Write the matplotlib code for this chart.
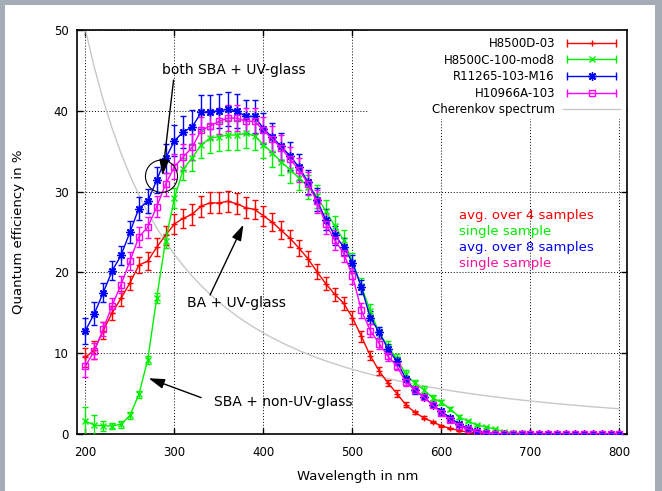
import matplotlib
matplotlib.use('Agg')
import matplotlib.pyplot as plt
from matplotlib.lines import Line2D
from matplotlib.legend_handler import HandlerLine2D
from matplotlib.patches import Ellipse, Rectangle

# wavelength grid in nm (200 ... 800, 10 nm steps)
wavelength = list(range(200, 801, 10))

# quantum efficiency in %
qe_h8500d = [9.5, 10.4, 12.8, 15.0, 16.8, 18.7, 20.9, 21.4, 23.1, 24.6,
             26.0, 26.7, 27.2, 28.2, 28.6, 28.6, 28.8, 28.5, 28.0, 27.8,
             27.0, 26.2, 25.2, 24.2, 23.0, 21.7, 20.1, 18.6, 17.3, 16.2,
             14.4, 12.1, 9.7, 7.8, 6.3, 5.0, 3.6, 2.7, 2.0, 1.5,
             1.0, 0.7, 0.4, 0.25, 0.15, 0.08, 0.04, 0.02, 0.0, 0.0,
             0.0, 0.0, 0.0, 0.0, 0.0, 0.0, 0.0, 0.0, 0.0, 0.0, 0.0]
err_h8500d = [1.2, 1.1, 1.0, 0.9, 0.9, 0.9, 1.0, 1.1, 1.1, 1.2,
              1.2, 1.2, 1.3, 1.3, 1.3, 1.3, 1.3, 1.3, 1.3, 1.2,
              1.2, 1.1, 1.1, 1.0, 1.0, 0.9, 0.9, 0.8, 0.8, 0.8,
              0.8, 0.7, 0.6, 0.5, 0.4, 0.4, 0.3, 0.2, 0.2, 0.1,
              0.1, 0.05, 0.05, 0.05, 0.05, 0.05, 0.05, 0.05, 0.05, 0.05,
              0.05, 0.05, 0.05, 0.05, 0.05, 0.05, 0.05, 0.05, 0.05, 0.05, 0.05]

qe_h8500c = [1.6, 1.1, 1.0, 1.0, 1.2, 2.3, 4.9, 9.2, 16.8, 23.9,
             29.2, 32.8, 34.2, 35.8, 36.6, 36.8, 37.0, 37.0, 37.2, 36.9,
             35.8, 34.8, 33.7, 32.7, 31.7, 30.6, 29.4, 27.6, 25.8, 24.0,
             21.3, 18.3, 15.2, 12.5, 10.8, 9.3, 7.4, 6.3, 5.5, 4.5,
             3.9, 3.1, 2.1, 1.6, 1.1, 0.9, 0.6, 0.3, 0.15, 0.08,
             0.04, 0.0, 0.0, 0.0, 0.0, 0.0, 0.0, 0.0, 0.0, 0.0, 0.0]
err_h8500c = [1.8, 1.2, 0.6, 0.4, 0.4, 0.4, 0.4, 0.5, 0.6, 0.9,
              1.2, 1.4, 1.6, 1.7, 1.8, 1.8, 1.8, 1.8, 1.8, 1.8,
              1.7, 1.7, 1.6, 1.6, 1.5, 1.5, 1.4, 1.3, 1.2, 1.2,
              1.1, 1.0, 0.9, 0.8, 0.7, 0.6, 0.5, 0.4, 0.4, 0.3,
              0.3, 0.2, 0.2, 0.15, 0.1, 0.1, 0.1, 0.05, 0.05, 0.05,
              0.05, 0.05, 0.05, 0.05, 0.05, 0.05, 0.05, 0.05, 0.05, 0.05, 0.05]

qe_r11265 = [12.8, 14.9, 17.5, 20.2, 22.1, 25.0, 27.9, 28.8, 31.4, 34.1,
             36.3, 37.4, 38.0, 39.8, 39.9, 40.0, 40.2, 40.0, 39.3, 39.3,
             37.8, 36.7, 35.6, 34.4, 33.0, 31.2, 29.0, 26.5, 24.6, 23.2,
             21.2, 18.2, 14.4, 12.6, 10.5, 9.0, 6.8, 5.4, 4.6, 3.6,
             2.8, 2.0, 1.2, 0.7, 0.35, 0.15, 0.05, 0.0, 0.0, 0.0,
             0.0, 0.0, 0.0, 0.0, 0.0, 0.0, 0.0, 0.0, 0.0, 0.0, 0.0]
err_r11265 = [1.6, 1.4, 1.2, 1.2, 1.2, 1.3, 1.4, 1.5, 1.6, 1.8,
              1.9, 2.0, 2.1, 2.1, 2.1, 2.1, 2.1, 2.1, 2.0, 2.0,
              1.9, 1.8, 1.7, 1.7, 1.6, 1.5, 1.4, 1.3, 1.2, 1.1,
              1.0, 0.9, 0.8, 0.7, 0.6, 0.5, 0.4, 0.4, 0.3, 0.3,
              0.2, 0.2, 0.1, 0.1, 0.1, 0.05, 0.05, 0.05, 0.05, 0.05,
              0.05, 0.05, 0.05, 0.05, 0.05, 0.05, 0.05, 0.05, 0.05, 0.05, 0.05]

qe_h10966 = [8.4, 10.3, 13.0, 15.9, 18.5, 21.4, 24.4, 25.6, 28.1, 30.9,
             33.1, 34.3, 35.5, 37.6, 38.1, 38.7, 39.1, 39.1, 38.7, 38.7,
             37.6, 36.5, 35.4, 34.0, 32.7, 31.0, 28.8, 26.0, 24.0, 22.4,
             19.6, 15.3, 12.8, 11.2, 9.6, 8.4, 6.4, 5.5, 4.6, 3.6,
             2.6, 1.7, 1.0, 0.6, 0.3, 0.1, 0.05, 0.0, 0.0, 0.0,
             0.0, 0.0, 0.0, 0.0, 0.0, 0.0, 0.0, 0.0, 0.0, 0.0, 0.0]
err_h10966 = [1.3, 1.0, 0.9, 0.9, 1.0, 1.1, 1.2, 1.3, 1.3, 1.4,
              1.5, 1.6, 1.6, 1.6, 1.6, 1.6, 1.6, 1.6, 1.6, 1.6,
              1.6, 1.6, 1.6, 1.5, 1.5, 1.4, 1.4, 1.3, 1.2, 1.1,
              1.0, 0.9, 0.8, 0.7, 0.6, 0.5, 0.4, 0.4, 0.3, 0.3,
              0.2, 0.2, 0.1, 0.1, 0.1, 0.05, 0.05, 0.05, 0.05, 0.05,
              0.05, 0.05, 0.05, 0.05, 0.05, 0.05, 0.05, 0.05, 0.05, 0.05, 0.05]

# Cherenkov spectrum (arbitrary units, scaled onto the axis)
cherenkov = [50.0, 45.35, 41.32, 37.81, 34.72, 32.0, 29.59, 27.43, 25.51, 23.78,
             22.22, 20.81, 19.53, 18.37, 17.30, 16.33, 15.43, 14.61, 13.85, 13.15,
             12.5, 11.90, 11.34, 10.82, 10.33, 9.88, 9.45, 9.05, 8.68, 8.33,
             8.0, 7.69, 7.40, 7.12, 6.86, 6.61, 6.38, 6.16, 5.95, 5.75,
             5.56, 5.37, 5.20, 5.04, 4.88, 4.73, 4.59, 4.46, 4.33, 4.20,
             4.08, 3.97, 3.86, 3.75, 3.65, 3.56, 3.46, 3.37, 3.29, 3.20, 3.13]

labels = ['H8500D-03', 'H8500C-100-mod8', 'R11265-103-M16', 'H10966A-103']
notes = ['avg. over 4 samples', 'single sample', 'avg. over 8 samples', 'single sample']

series = [
    (qe_h8500d, err_h8500d, '#ff0000', '+', 5, 'full'),
    (qe_h8500c, err_h8500c, '#00f000', 'x', 4, 'full'),
    (qe_r11265, err_r11265, '#0000ff', (8, 2, 0), 6, 'full'),
    (qe_h10966, err_h10966, '#ff00ff', 's', 5, 'none'),
]
note_colors = ['#ff0000', '#00f000', '#0000ff', '#ff10a0']

plt.rcParams['font.family'] = 'DejaVu Sans'

fig = plt.figure(figsize=(6.62, 4.91), dpi=100)
fig.patch.set_facecolor('#a4adb6')
fig.patches.append(Rectangle((5 / 662, 0), 650 / 662, 486 / 491, transform=fig.transFigure,
                             facecolor='white', edgecolor='none', zorder=-1))
ax = fig.add_axes([77 / 662, 57 / 491, 550 / 662, 404 / 491])

ax.set_xlim(190.5, 808.5)
ax.set_ylim(0, 50)
ax.set_axisbelow(True)
ax.grid(True, color='black', linestyle=(0, (1, 2)), linewidth=0.7)

# opaque key area (covers the grid, like the original)
ax.add_patch(Rectangle((518, 39.0), 300, 12, facecolor='white', edgecolor='none', zorder=1))

handles = []
handler_map = {}
for (vals, errs, col, mk, ms, fill), lab in zip(series, labels):
    ax.errorbar(wavelength, vals, yerr=errs, color=col, marker=mk, markersize=ms,
                fillstyle=fill, markeredgewidth=1, linewidth=1, elinewidth=1,
                capsize=2.5, capthick=1, zorder=3)
    caps = Line2D([], [], color=col, marker='|', markersize=6, linewidth=1)
    mark = Line2D([], [], color=col, marker=mk, markersize=ms, fillstyle=fill,
                  linestyle='none', markeredgewidth=1)
    handler_map[caps] = HandlerLine2D(numpoints=2)
    handler_map[mark] = HandlerLine2D(numpoints=1)
    handles.append((caps, mark))

ch_line, = ax.plot(wavelength, cherenkov, color='#c8c8c8', linewidth=1, zorder=2.5)
handles.append(ch_line)

leg = ax.legend(handles, labels + ['Cherenkov spectrum'], loc='upper right',
                markerfirst=False, frameon=False, fontsize=8.5, handlelength=4.8,
                handletextpad=0.7, labelspacing=0.3, borderaxespad=0.2,
                handler_map=handler_map)

# annotations
arrow = dict(arrowstyle='-|>,head_length=0.8,head_width=0.25', color='black',
             lw=1, mutation_scale=12, shrinkA=0, shrinkB=0)
ax.text(367, 45.0, 'both SBA + UV-glass', fontsize=10, ha='center', va='center')
ax.annotate('', xy=(286.5, 32.0), xytext=(299, 43.8), arrowprops=arrow, zorder=5)
ax.add_patch(Ellipse((285.4, 31.9), 36, 4.0, facecolor='none', edgecolor='black',
                     linewidth=0.8, zorder=5))

ax.text(370, 16.2, 'BA + UV-glass', fontsize=10, ha='center', va='center')
ax.annotate('', xy=(377.5, 25.9), xytext=(340, 17.2), arrowprops=arrow, zorder=5)

ax.text(422.5, 3.96, 'SBA + non-UV-glass', fontsize=10, ha='center', va='center')
ax.annotate('', xy=(271, 6.9), xytext=(330, 4.5), arrowprops=arrow, zorder=5)

for i, (txt, col) in enumerate(zip(notes, note_colors)):
    ax.text(620, 27.1 - 2.02 * i, txt, color=col, fontsize=9.5, ha='left', va='center')

ax.set_xticks([200, 300, 400, 500, 600, 700, 800])
ax.set_yticks([0, 10, 20, 30, 40, 50])
ax.tick_params(direction='in', top=True, right=True, length=4, width=1, labelsize=8.5)
ax.tick_params(axis='x', pad=9)
ax.tick_params(axis='y', pad=6)
for s in ax.spines.values():
    s.set_linewidth(1.2)

ax.set_xlabel('Wavelength in nm', fontsize=9.5)
ax.set_ylabel('Quantum efficiency in %', fontsize=9.5)
ax.xaxis.set_label_coords(0.51, -0.09)
ax.yaxis.set_label_coords(-0.095, 0.5)

fig.savefig('out.png', dpi=100, facecolor=fig.get_facecolor())
